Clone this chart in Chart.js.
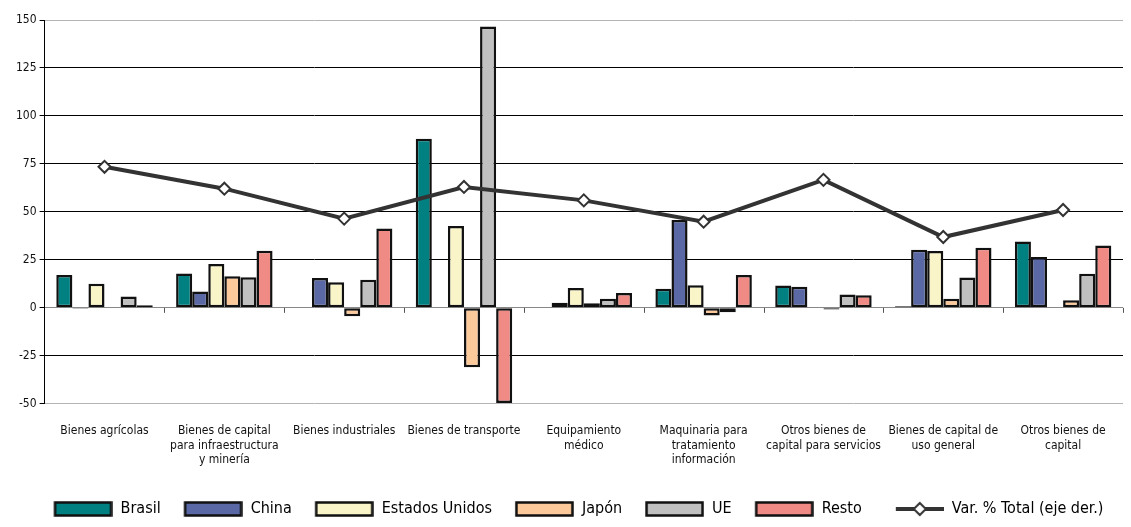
<!DOCTYPE html>
<html>
<head>
<meta charset="utf-8">
<script src="https://cdn.jsdelivr.net/npm/chart.js@4/dist/chart.umd.min.js"></script>
<style>
  html, body { margin: 0; padding: 0; background: #fff; }
  #wrap { width: 1131px; height: 527px; }
</style>
</head>
<body>
<div id="wrap"><canvas id="chart"></canvas></div>
<script>
// data
const categories = [
  "Bienes agrícolas",
  ["Bienes de capital", "para infraestructura", "y minería"],
  "Bienes industriales",
  "Bienes de transporte",
  ["Equipamiento", "médico"],
  ["Maquinaria para", "tratamiento", "información"],
  ["Otros bienes de", "capital para servicios"],
  ["Bienes de capital de", "uso general"],
  ["Otros bienes de", "capital"],
];
const brasil = [17.1, 17.9, 0, 88.1, 0.3, 9.9, 11.7, 0.8, 34.6];
const china = [-0.5, 8.5, 15.5, 0.3, 2.6, 45.8, 11.0, 30.3, 26.5];
const estadosUnidos = [12.5, 22.8, 13.4, 42.6, 10.3, 11.8, 0.3, 29.6, 0.3];
const japon = [0.3, 16.5, -4.4, -31.0, 2.4, -4.0, -0.8, 4.7, 4.0];
const ue = [5.9, 16.0, 14.6, 146.6, 4.7, -2.3, 7.0, 15.8, 17.8];
const resto = [1.4, 29.8, 41.4, -49.6, 7.7, 17.1, 6.6, 31.3, 32.5];
const varTotal = [73.5, 62.1, 46.5, 63.0, 56.0, 44.9, 66.7, 36.9, 51.0];
const yTicks = [-50, -25, 0, 25, 50, 75, 100, 125, 150];

const FONT = "'DejaVu Sans Condensed', 'Liberation Sans Narrow', sans-serif";

const barSeries = [
  { label: "Brasil", data: brasil, color: "#008080" },
  { label: "China", data: china, color: "#5A69A5" },
  { label: "Estados Unidos", data: estadosUnidos, color: "#FAF5C8" },
  { label: "Japón", data: japon, color: "#FCC99B" },
  { label: "UE", data: ue, color: "#C0C0C0" },
  { label: "Resto", data: resto, color: "#F08A85" },
];

// legend swatches as small canvases (transparent margin on the left)
const SW = 76;
function boxSwatch(color) {
  const c = document.createElement("canvas");
  c.width = SW; c.height = 16;
  const g = c.getContext("2d");
  g.fillStyle = color;
  g.fillRect(18.5, 1.5, 56, 13);
  g.strokeStyle = "#111";
  g.lineWidth = 2.5;
  g.strokeRect(18.5, 1.5, 56, 13);
  return c;
}
function lineSwatch() {
  const c = document.createElement("canvas");
  c.width = SW; c.height = 16;
  const g = c.getContext("2d");
  g.strokeStyle = "#333";
  g.lineWidth = 4;
  g.beginPath(); g.moveTo(28, 8); g.lineTo(76, 8); g.stroke();
  g.fillStyle = "#fff";
  g.lineWidth = 2;
  g.beginPath();
  g.moveTo(52, 2); g.lineTo(58, 8); g.lineTo(52, 14); g.lineTo(46, 8); g.closePath();
  g.fill(); g.stroke();
  return c;
}

// small tick marks on the zero line between categories
const zeroTicks = {
  id: "zeroTicks",
  beforeDatasetsDraw(chart) {
    const xs = chart.scales.x, ys = chart.scales.y;
    const ctx = chart.ctx;
    const y0 = ys.getPixelForValue(0);
    const n = chart.data.labels.length;
    ctx.save();
    ctx.strokeStyle = "#555";
    ctx.lineWidth = 1;
    for (let i = 1; i <= n; i++) {
      const x = Math.round(xs.left + i * xs.width / n) + 0.5;
      ctx.beginPath(); ctx.moveTo(x, y0); ctx.lineTo(x, y0 + 5); ctx.stroke();
    }
    ctx.restore();
  },
};

const datasets = barSeries.map((s) => ({
  type: "bar",
  label: s.label,
  data: s.data,
  backgroundColor: s.color,
  borderColor: "#111",
  borderWidth: 2.5,
  borderSkipped: false,
  categoryPercentage: 0.805,
  barPercentage: 1,
  order: 1,
}));
datasets.push({
  type: "line",
  label: "Var. % Total (eje der.)",
  data: varTotal,
  borderColor: "#333",
  borderWidth: 4,
  pointStyle: "rectRot",
  pointRadius: 6,
  pointBackgroundColor: "#fff",
  pointBorderColor: "#333",
  pointBorderWidth: 2,
  tension: 0,
  order: 0,
});

new Chart(document.getElementById("chart"), {
  data: { labels: categories, datasets },
  options: {
    responsive: true,
    maintainAspectRatio: false,
    animation: false,
    layout: { padding: { left: 13, right: 4, top: 20, bottom: 0 } },
    scales: {
      x: {
        grid: { display: false },
        border: { display: false },
        afterFit: (scale) => { scale.height += 16; },
        ticks: {
          color: "#111",
          font: { family: FONT, size: 12 },
          maxRotation: 0,
          autoSkip: false,
          padding: 12,
        },
      },
      y: {
        min: -50,
        max: 150,
        afterBuildTicks: (axis) => { axis.ticks = yTicks.map((v) => ({ value: v })); },
        border: { display: true, color: "#000", width: 1 },
        grid: {
          color: (ctx) => {
            const v = ctx.tick && ctx.tick.value;
            if (v === 150 || v === -50) return "#b4b4b4";
            if (v === 0) return "#888";
            return "#000";
          },
          lineWidth: 1,
          tickLength: 5,
          tickColor: "#000",
        },
        ticks: {
          color: "#111",
          font: { family: FONT, size: 12 },
          padding: 3,
        },
      },
    },
    plugins: {
      legend: {
        position: "bottom",
        labels: {
          usePointStyle: true,
          pointStyleWidth: SW,
          boxHeight: 16,
          padding: 6,
          color: "#111",
          font: { family: FONT, size: 16 },
          generateLabels: (chart) =>
            chart.data.datasets.map((ds, i) => ({
              text: ds.label,
              pointStyle: ds.type === "line" ? lineSwatch() : boxSwatch(ds.backgroundColor),
              fillStyle: "#fff",
              strokeStyle: "#fff",
              lineWidth: 0,
              hidden: false,
              datasetIndex: i,
            })),
        },
      },
      tooltip: { enabled: false },
    },
  },
  plugins: [zeroTicks],
});
</script>
</body>
</html>
